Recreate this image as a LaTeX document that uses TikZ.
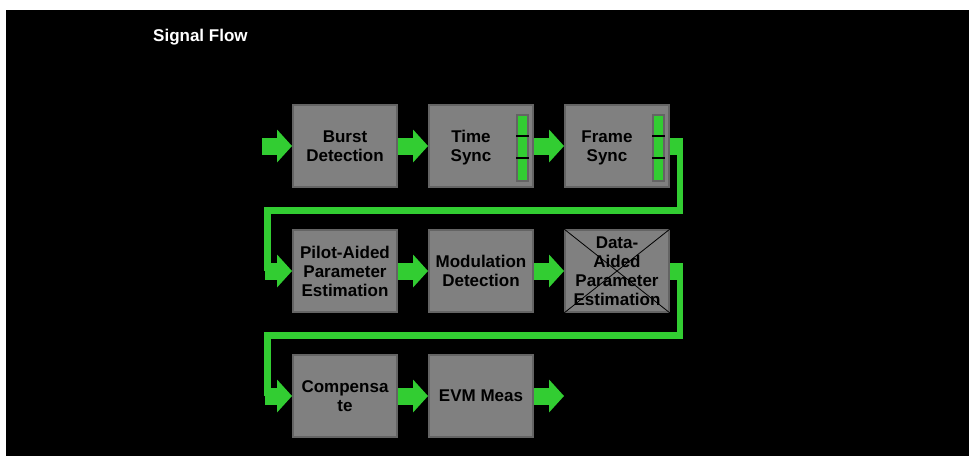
\documentclass[tikz,border=0pt]{standalone}
\usepackage{fontspec}
\setmainfont{Liberation Sans}
\usetikzlibrary{positioning,arrows.meta}
\definecolor{sfgreen}{RGB}{50,205,50}
\definecolor{blkfill}{RGB}{128,128,128}
\definecolor{blkedge}{RGB}{100,100,100}
\begin{document}
\begin{tikzpicture}[x=1pt, y=-1pt,
        font=\fontsize{17}{19}\selectfont\bfseries,
        blk/.style={draw=blkedge, line width=2pt, fill=blkfill, minimum width=104pt, minimum height=82pt,
            inner sep=0pt, align=center},
        lbl/.style={align=center, inner sep=0pt},
        flow/.style={sfgreen, line width=17pt, -{Triangle[length=15pt, width=33pt, line width=0pt]}},
        stub/.style={sfgreen, line width=17pt},
        wire/.style={sfgreen, line width=6.5pt}]
        % the sync indicator at the right side of a block
        \newcommand{\syncbar}[1]{
            \begin{scope}[shift={(#1.east)}]
                \fill[blkedge] (-18,-32) rectangle (-5,36);
                \fill[sfgreen] (-16,-30) rectangle (-7,34);
                \draw[black, line width=1.2pt] (-18,-10) -- (-5,-10);
                \draw[black, line width=1.2pt] (-18,12) -- (-5,12);
            \end{scope}
        }

        % background
        \useasboundingbox (0,0) rectangle (969,456);
        \fill[white] (0,0) rectangle (969,456);
        \fill[black] (6,10) rectangle (969,456);
        \node[anchor=base west, text=white, inner sep=0pt] (title) at (153,41) {Signal Flow};

        % first row
        \node[blk] (burst) at (345,146) {Burst\\Detection};
        \node[blk, right=30pt of burst] (tsync) {};
        \node[lbl] (tsynctxt) at ([xshift=-10pt, yshift=-2pt]tsync.center) {Time\\Sync};
        \node[blk, right=30pt of tsync] (fsync) {};
        \node[lbl] (fsynctxt) at ([xshift=-10pt, yshift=-2pt]fsync.center) {Frame\\Sync};
        \syncbar{tsync}
        \syncbar{fsync}

        % second row
        \node[blk, below=41pt of burst] (pilot) {Pilot-Aided\\Parameter\\Estimation};
        \node[blk, right=30pt of pilot] (moddet) {Modulation\\Detection};
        \node[blk, right=30pt of moddet] (dataaided) {Data-\\Aided\\Parameter\\Estimation};
        \draw[black, line width=0.8pt] (dataaided.north west) -- (dataaided.south east);
        \draw[black, line width=0.8pt] (dataaided.north east) -- (dataaided.south west);

        % third row
        \node[blk, below=41pt of pilot] (comp) {Compensa\\te};
        \node[blk, right=30pt of comp] (evm) {EVM Meas};

        % connectors
        \coordinate (in1) at ([xshift=-30pt]burst.west);
        \coordinate (fsout) at ([xshift=13pt]fsync.east);
        \coordinate (turn1) at (267.5,210.5);
        \coordinate (in2) at ([xshift=-27pt]pilot.west);
        \coordinate (daout) at ([xshift=13pt]dataaided.east);
        \coordinate (turn2) at (267.5,335.5);
        \coordinate (in3) at ([xshift=-27pt]comp.west);
        \coordinate (out) at ([xshift=30pt]evm.east);

        \draw[flow] (in1) -- (burst);
        \draw[flow] (burst) -- (tsync);
        \draw[flow] (tsync) -- (fsync);
        \draw[stub] (fsync.east) -- (fsout);
        \draw[wire] ([xshift=-3.25pt]fsout) |- (turn1) -- (turn1 |- in2);
        \draw[flow] (in2) -- (pilot);
        \draw[flow] (pilot) -- (moddet);
        \draw[flow] (moddet) -- (dataaided);
        \draw[stub] (dataaided.east) -- (daout);
        \draw[wire] ([xshift=-3.25pt]daout) |- (turn2) -- (turn2 |- in3);
        \draw[flow] (in3) -- (comp);
        \draw[flow] (comp) -- (evm);
        \draw[flow] (evm) -- (out);
    \end{tikzpicture}
\end{document}
